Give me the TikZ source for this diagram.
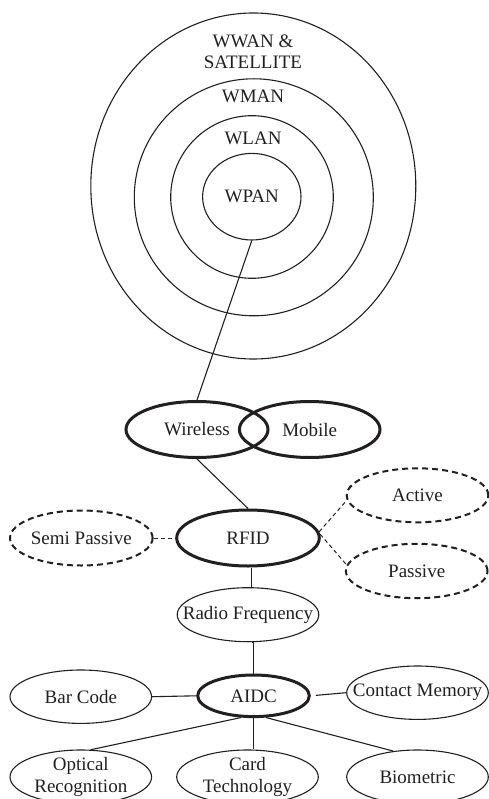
\documentclass[tikz,border=0pt]{standalone}
\usepackage{fontspec}
\setmainfont{Liberation Serif}
\usetikzlibrary{shapes.geometric,calc}
\definecolor{ink}{RGB}{35,31,32}
\begin{document}
\begin{tikzpicture}[x=1pt,y=-1pt,
  every node/.style={font=\fontsize{19}{21.5}\selectfont, text=ink},
  ell/.style={ellipse, draw=ink, inner sep=0pt},
  ring/.style={ell, line width=1.1pt},
  plainell/.style={ell, line width=1.1pt},
  boldell/.style={ell, line width=3pt},
  dashell/.style={ell, line width=2pt, dash pattern=on 6pt off 4pt},
  conn/.style={draw=ink, line width=1.1pt},
  dconn/.style={draw=ink, line width=1pt, dash pattern=on 4pt off 3pt},
  ml/.style={label={[align=center]center:#1}}
]
\useasboundingbox (0,0) rectangle (489,799);
\clip (0,0) rectangle (489,799);

% concentric rings
\node[ring, minimum width=325pt, minimum height=346pt] (wwan) at (253.3,186) {};
\node[ring, minimum width=239pt, minimum height=237pt] (wman) at (253.8,197.3) {};
\node[ring, minimum width=162.6pt, minimum height=162.6pt] (wlan) at (252,197) {};
\node[ring, minimum width=98.4pt, minimum height=86.6pt, ml={WPAN}] (wpan) at (251.8,196.7) {};
\node[align=center] (lwwan) at (253,52) {WWAN \&\\SATELLITE};
\node (lwman) at (253,96) {WMAN};
\node (lwlan) at (253,138) {WLAN};

% middle
\node[boldell, minimum width=142pt, minimum height=56pt, ml={Wireless}] (wireless) at (197,429.5) {};
\node[boldell, minimum width=140.6pt, minimum height=56pt, ml={Mobile}] (mobile) at (309.7,429.5) {};
\node[boldell, minimum width=142.6pt, minimum height=56pt, ml={RFID}] (rfid) at (248,538) {};
\node[dashell, minimum width=142.6pt, minimum height=55pt, ml={Semi Passive}] (semi) at (81.3,538) {};
\node[dashell, minimum width=141.6pt, minimum height=54pt, ml={Active}] (active) at (417.5,495.3) {};
\node[dashell, minimum width=141.6pt, minimum height=54.4pt, ml={Passive}] (passive) at (416.7,571) {};
\node[plainell, minimum width=141.6pt, minimum height=54pt, ml={Radio Frequency}] (rf) at (248,614.7) {};
\node[boldell, minimum width=111.6pt, minimum height=41.6pt, ml={AIDC}] (aidc) at (253.5,695.8) {};
\node[plainell, minimum width=141.6pt, minimum height=53.4pt, ml={Bar Code}] (barcode) at (80.8,696.7) {};
\node[plainell, minimum width=141.6pt, minimum height=53.4pt, ml={Contact Memory}] (cm) at (417.5,692.7) {};
\node[plainell, minimum width=141.6pt, minimum height=54pt, ml={Optical\\Recognition}] (optical) at (80.8,777) {};
\node[plainell, minimum width=141.6pt, minimum height=54pt, ml={Card\\Technology}] (card) at (247.5,777) {};
\node[plainell, minimum width=141.6pt, minimum height=54pt, ml={Biometric}] (bio) at (417.5,777) {};

% connectors
\draw[conn] (wpan.south) -- (wireless.north);
\draw[conn] (wireless.south) -- (rfid.north);
\draw[dconn] (semi.east) -- (rfid.west);
\draw[dconn] (rfid.5) -- (active.184);
\draw[dconn] (rfid.3) -- (passive.175);
\draw[conn] ([xshift=3.5pt]rfid.south) -- ([xshift=3.5pt]rf.north);
\draw[conn] ([xshift=3.5pt]rf.south) -- (rf.south -| aidc.north) -- (aidc.north);
\draw[conn] (barcode.east) -- (aidc.west);
\draw[conn, shorten <=5pt] (aidc.east) -- (cm.west);
\draw[conn] (aidc.240) -- (optical.70);
\draw[conn] (aidc.south) -- (aidc.south |- card.north);
\draw[conn] (aidc.300) -- (bio.133);
\end{tikzpicture}
\end{document}
